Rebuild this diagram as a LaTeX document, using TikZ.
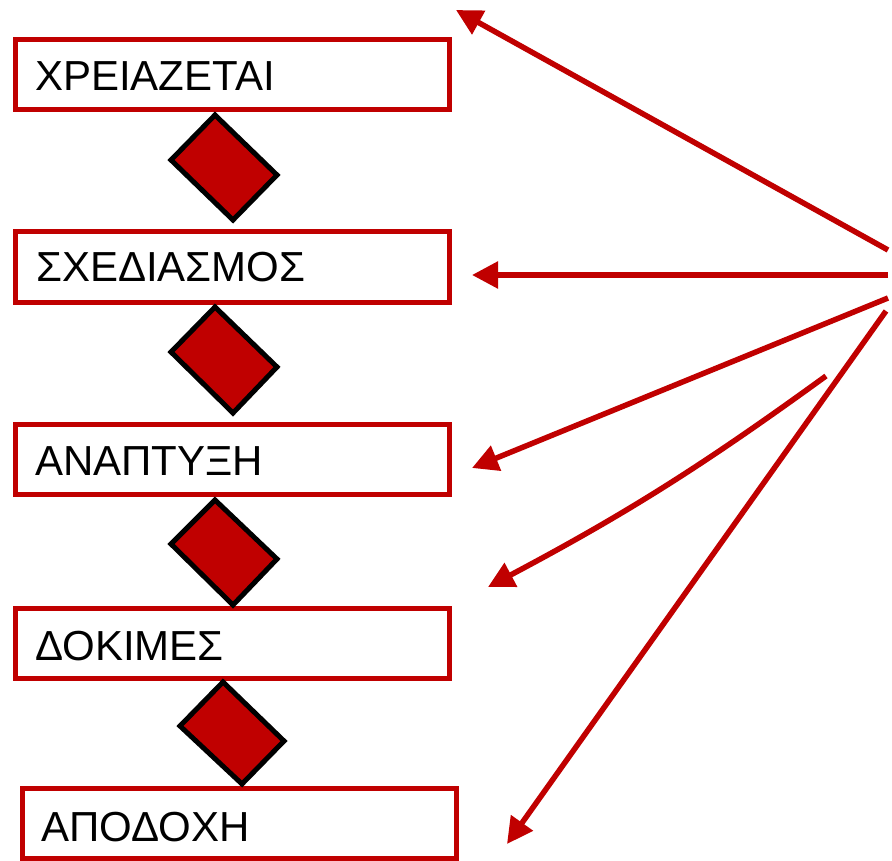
\documentclass[tikz,border=0pt]{standalone}
\usepackage{fontspec}
\setmainfont{Liberation Sans}
\usetikzlibrary{arrows.meta}
\definecolor{dred}{RGB}{192,0,0}
\tikzset{
  box/.style={draw=dred, line width=5pt, fill=white, rectangle, minimum width=434pt, minimum height=70pt, inner sep=0pt},
  lbl/.style={anchor=base west, inner sep=0pt, font=\fontsize{42}{50}\selectfont, text=black},
  dia/.style={draw=black, fill=dred, line width=5pt, line join=miter},
  arr/.style={draw=dred, line width=5.5pt, -{Triangle[length=26pt,width=26pt]}},
}
\begin{document}
\begin{tikzpicture}[x=1pt,y=-1pt]
\useasboundingbox (0,0) rectangle (892,861);
% boxes
\node[box] (b1) at (232.5,74.5) {};
\node[box] (b2) at (232.5,267) {};
\node[box] (b3) at (232.5,459.5) {};
\node[box] (b4) at (232.5,643) {};
\node[box] (b5) at (239,823.5) {};
\node[lbl] (t1) at (35,91) {ΧΡΕΙΑΖΕΤΑΙ};
\node[lbl] (t2) at (36,282) {ΣΧΕΔΙΑΣΜΟΣ};
\node[lbl] (t3) at (35,475) {ΑΝΑΠΤΥΞΗ};
\node[lbl] (t4) at (35,660) {ΔΟΚΙΜΕΣ};
\node[lbl] (t5) at (41,841) {ΑΠΟΔΟΧΗ};
% diamonds
\draw[dia] (215,115) -- (277,175) -- (233,220) -- (171,160) -- cycle;
\draw[dia] (215,307) -- (277,367) -- (233,413) -- (171,352) -- cycle;
\draw[dia] (215,500) -- (277,559) -- (233,605) -- (171,544) -- cycle;
\draw[dia] (223,682) -- (284,741) -- (242,784) -- (180,726) -- cycle;
% arrow ends
\coordinate (s1) at (888,250);
\coordinate (e1) at (456,10);
\coordinate (s2) at (888,275);
\coordinate (e2) at (472,275);
\coordinate (s3) at (888,298);
\coordinate (e3) at (472,468);
\coordinate (s4) at (826,376);
\coordinate (e4) at (488,587);
\coordinate (s5) at (886,311);
\coordinate (e5) at (507,844);
\draw[arr] (s1) -- (e1);
\draw[arr] (s2) -- (e2);
\draw[arr] (s3) -- (e3);
\draw[arr] (s4) to[bend left=4] (e4);
\draw[arr] (s5) -- (e5);
\end{tikzpicture}
\end{document}
